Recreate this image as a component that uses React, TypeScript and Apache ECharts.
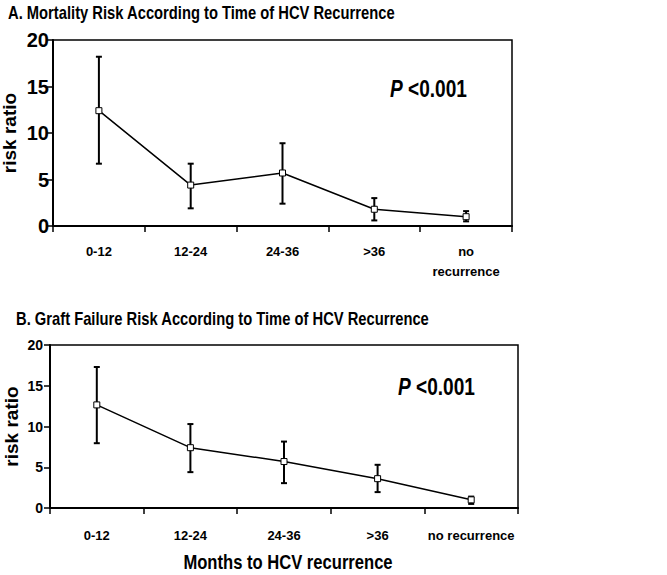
import React, { useEffect, useRef } from "react";
import * as echarts from "echarts";

const categories = ["0-12", "12-24", "24-36", ">36", "no recurrence"];
const categoriesTop = ["0-12", "12-24", "24-36", ">36", "no\nrecurrence"];

const mortalityRR = [12.4, 4.4, 5.7, 1.8, 1.0];
const mortalityLow = [6.7, 1.9, 2.4, 0.6, 0.5];
const mortalityHigh = [18.2, 6.7, 8.9, 3.0, 1.6];

const graftRR = [12.65, 7.4, 5.7, 3.6, 1.0];
const graftLow = [7.95, 4.4, 3.05, 1.95, 0.5];
const graftHigh = [17.3, 10.3, 8.15, 5.3, 1.4];

const yTicks = { min: 0, max: 20, interval: 5 };

const FONT = '"Liberation Sans", Arial, sans-serif';

function errorSeries(low: number[], high: number[], axisIndex: number) {
  return {
    type: "custom",
    xAxisIndex: axisIndex,
    yAxisIndex: axisIndex,
    z: 2,
    data: low.map((l, i) => [i, l, high[i]]),
    renderItem: (params: any, api: any) => {
      const x = api.value(0);
      const lo = api.coord([x, api.value(1)]);
      const hi = api.coord([x, api.value(2)]);
      const cap = 3;
      const style = { stroke: "#000", lineWidth: 2 };
      return {
        type: "group",
        children: [
          { type: "line", shape: { x1: lo[0], y1: lo[1], x2: hi[0], y2: hi[1] }, style },
          { type: "line", shape: { x1: lo[0] - cap, y1: lo[1], x2: lo[0] + cap, y2: lo[1] }, style },
          { type: "line", shape: { x1: hi[0] - cap, y1: hi[1], x2: hi[0] + cap, y2: hi[1] }, style },
        ],
      };
    },
  };
}

function narrowText(text: string, x: number, y: number, fontSize: number, align: string, scale: number) {
  return {
    type: "text",
    x,
    y,
    scaleX: scale,
    style: {
      text,
      fontFamily: FONT,
      fontWeight: "bold",
      fontSize,
      fill: "#000",
      textAlign: align,
      textVerticalAlign: "middle",
    },
  };
}

function pValue(x: number, y: number) {
  return {
    type: "text",
    x,
    y,
    scaleX: 0.83,
    style: {
      text: "{p|P }{r|<0.001}",
      textVerticalAlign: "middle",
      rich: {
        p: { fontFamily: FONT, fontWeight: "bold", fontStyle: "italic", fontSize: 23, fill: "#000" },
        r: { fontFamily: FONT, fontWeight: "bold", fontSize: 23, fill: "#000" },
      },
    },
  };
}

export default function App() {
  const ref = useRef<HTMLDivElement>(null);
  useEffect(() => {
    if (!ref.current) return;
    const chart = echarts.init(ref.current, null, { renderer: "svg" });
    const axisLine = { show: true, lineStyle: { color: "#000", width: 2 } };
    const axisTick = { show: true, length: 6, interval: 0, lineStyle: { color: "#000", width: 1.5 } };
    chart.setOption({
      animation: false,
      backgroundColor: "#fff",
      grid: [
        { left: 53, top: 40, width: 459, height: 186, outerBoundsMode: "none", containLabel: false, show: true, borderColor: "#000", borderWidth: 1.5, backgroundColor: "transparent" },
        { left: 50, top: 345, width: 468, height: 163, outerBoundsMode: "none", containLabel: false, show: true, borderColor: "#000", borderWidth: 1.5, backgroundColor: "transparent" },
      ],
      xAxis: [
        {
          type: "category",
          gridIndex: 0,
          data: categoriesTop,
          axisLine,
          axisTick,
          axisLabel: { interval: 0, color: "#000", fontFamily: FONT, fontWeight: "bold", fontSize: 13, margin: 15, lineHeight: 20 },
        },
        {
          type: "category",
          gridIndex: 1,
          data: categories,
          axisLine,
          axisTick,
          axisLabel: { interval: 0, color: "#000", fontFamily: FONT, fontWeight: "bold", fontSize: 13, margin: 19, lineHeight: 16 },
        },
      ],
      yAxis: [
        {
          type: "value",
          gridIndex: 0,
          ...yTicks,
          splitLine: { show: false },
          axisLine,
          axisTick,
          axisLabel: { color: "#000", fontFamily: FONT, fontWeight: "bold", fontSize: 20, margin: 4 },
          name: "risk ratio",
          nameLocation: "middle",
          nameRotate: 90,
          nameGap: 34,
          nameMoveOverlap: false,
          nameTextStyle: { color: "#000", fontFamily: FONT, fontWeight: "bold", fontSize: 19 },
        },
        {
          type: "value",
          gridIndex: 1,
          ...yTicks,
          splitLine: { show: false },
          axisLine,
          axisTick,
          axisLabel: { color: "#000", fontFamily: FONT, fontWeight: "bold", fontSize: 14, margin: 7 },
          name: "risk ratio",
          nameLocation: "middle",
          nameRotate: 90,
          nameGap: 29,
          nameMoveOverlap: false,
          nameTextStyle: { color: "#000", fontFamily: FONT, fontWeight: "bold", fontSize: 19 },
        },
      ],
      graphic: [
        narrowText("A. Mortality Risk According to Time of HCV Recurrence", 8, 12, 18, "left", 0.82),
        narrowText("B. Graft Failure Risk According to Time of HCV Recurrence", 16, 318, 18, "left", 0.82),
        narrowText("Months to HCV recurrence", 288, 562, 20, "center", 0.83),
        pValue(390, 89),
        pValue(398, 387),
      ],
      series: [
        errorSeries(mortalityLow, mortalityHigh, 0),
        {
          type: "line",
          xAxisIndex: 0,
          yAxisIndex: 0,
          z: 3,
          data: mortalityRR,
          symbol: "rect",
          symbolSize: 6,
          lineStyle: { color: "#000", width: 1.5 },
          itemStyle: { color: "#fff", borderColor: "#000", borderWidth: 1 },
        },
        errorSeries(graftLow, graftHigh, 1),
        {
          type: "line",
          xAxisIndex: 1,
          yAxisIndex: 1,
          z: 3,
          data: graftRR,
          symbol: "rect",
          symbolSize: 6,
          lineStyle: { color: "#000", width: 1.5 },
          itemStyle: { color: "#fff", borderColor: "#000", borderWidth: 1 },
        },
      ],
    });
    return () => chart.dispose();
  }, []);
  return <div ref={ref} style={{ position: "fixed", left: 0, top: 0, width: 667, height: 575 }} />;
}
